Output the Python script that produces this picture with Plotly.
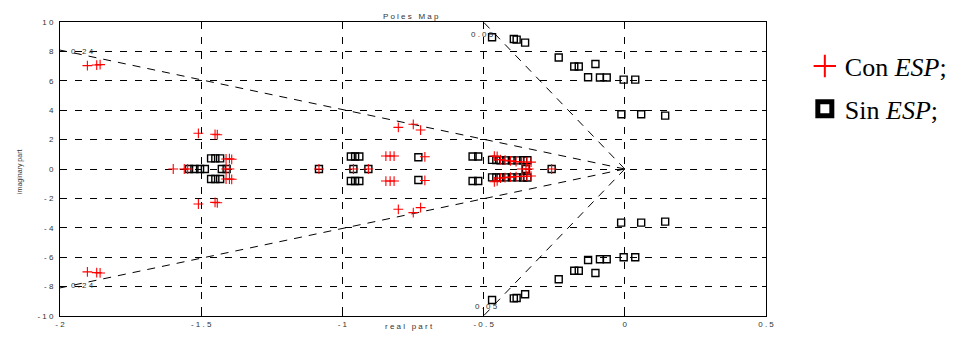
import math
import plotly.graph_objects as go

# ---- data: "Con ESP" poles (red crosses) ----
con_re = [
    -1.903, -1.870, -1.858, -1.510, -1.451, -1.443, -1.412, -1.400, -1.392,
    -0.802, -0.749, -0.723, -0.846, -0.831, -0.817, -0.708,
    -0.462, -0.452, -0.440, -0.424, -0.405, -0.385, -0.365, -0.347, -0.332,
    -1.599, -1.560, -1.548, -1.412, -1.400, -1.083, -0.961, -0.908,
    -0.365, -0.350, -0.340, -0.259,
    -1.903, -1.870, -1.858, -1.510, -1.451, -1.443, -1.412, -1.400, -1.392,
    -0.802, -0.749, -0.723, -0.846, -0.831, -0.817, -0.708,
    -0.462, -0.452, -0.440, -0.424, -0.405, -0.385, -0.365, -0.347, -0.332,
]
con_im = [
    7.03, 7.07, 7.10, 2.43, 2.36, 2.33, 0.68, 0.70, 0.66,
    2.83, 3.04, 2.65, 0.88, 0.88, 0.88, 0.83,
    0.88, 0.85, 0.64, 0.60, 0.55, 0.50, 0.48, 0.48, 0.47,
    0.0, 0.0, 0.0, 0.0, 0.0, 0.0, 0.0, 0.0,
    0.0, 0.0, 0.0, 0.0,
    -7.00, -7.05, -7.07, -2.38, -2.27, -2.30, -0.68, -0.68, -0.70,
    -2.74, -2.97, -2.63, -0.82, -0.82, -0.82, -0.78,
    -0.87, -0.80, -0.62, -0.59, -0.55, -0.52, -0.50, -0.49, -0.48,
]

# ---- data: "Sin ESP" poles (black squares) ----
sin_re = [
    -0.470, -0.393, -0.383, -0.353, -0.234, -0.179, -0.163, -0.104,
    -0.130, -0.088, -0.064, -0.004, 0.037, -0.012, 0.058, 0.143,
    -1.465, -1.450, -1.433, -0.970, -0.955, -0.940, -0.731,
    -0.539, -0.519, -0.470, -0.455, -0.440, -0.420, -0.400, -0.380, -0.360, -0.345,
    -1.543, -1.524, -1.504, -1.487, -1.427, -1.410, -1.083, -0.961, -0.908,
    -0.350, -0.259,
    -0.470, -0.393, -0.383, -0.353, -0.234, -0.179, -0.163, -0.104,
    -0.130, -0.088, -0.064, -0.004, 0.037, -0.013, 0.058, 0.143,
    -1.465, -1.450, -1.433, -0.970, -0.955, -0.940, -0.731,
    -0.539, -0.519, -0.470, -0.455, -0.440, -0.420, -0.400, -0.380, -0.360, -0.345,
]
sin_im = [
    8.96, 8.84, 8.80, 8.60, 7.58, 6.97, 6.97, 7.14,
    6.24, 6.22, 6.22, 6.08, 6.08, 3.72, 3.72, 3.63,
    0.72, 0.72, 0.72, 0.85, 0.85, 0.85, 0.80,
    0.85, 0.85, 0.62, 0.61, 0.60, 0.59, 0.59, 0.59, 0.60, 0.60,
    0.0, 0.0, 0.0, 0.0, 0.0, 0.0, 0.0, 0.0, 0.0,
    0.0, 0.0,
    -8.91, -8.80, -8.78, -8.52, -7.50, -6.92, -6.92, -7.07,
    -6.19, -6.14, -6.14, -6.00, -6.00, -3.65, -3.65, -3.58,
    -0.68, -0.68, -0.68, -0.82, -0.82, -0.82, -0.75,
    -0.82, -0.82, -0.57, -0.57, -0.57, -0.57, -0.57, -0.57, -0.58, -0.58,
]

x_ticks = [-2, -1.5, -1, -0.5, 0, 0.5]
x_tick_text = ["- 2", "- 1 . 5", "- 1", "- 0 . 5", "0", "0 . 5"]
y_ticks = [-10, -8, -6, -4, -2, 0, 2, 4, 6, 8, 10]
y_tick_text = ["- 1 0", "- 8", "- 6", "- 4", "- 2", "0", "2", "4", "6", "8", "1 0"]

zeta_values = [0.24, 0.05]
zeta_labels = ["0 . 2 4", "0 . 0 5"]

X_MIN, X_MAX, Y_MIN, Y_MAX = -2, 0.5, -10, 10

fig = go.Figure()

# constant damping lines
for z in zeta_values:
    wd = math.sqrt(1 - z * z)
    r = min(-X_MIN / z, Y_MAX / wd)
    for s in (1, -1):
        fig.add_trace(go.Scatter(
            x=[0, -z * r], y=[0, s * wd * r], mode="lines",
            line=dict(color="black", width=1, dash="8px,7px"),
            showlegend=False, hoverinfo="skip"))

# damping labels
label_pos = {0.24: [(-1.92, 8.0), (-1.92, -7.95)], 0.05: [(-0.505, 9.15), (-0.49, -9.35)]}
for z, lab in zip(zeta_values, zeta_labels):
    for (lx, ly) in label_pos[z]:
        fig.add_annotation(x=lx, y=ly, text=lab, showarrow=False,
                           font=dict(family="Liberation Sans", size=8, color="#333"))

text_font = dict(family="Liberation Sans", size=8, color="#333")

fig.add_trace(go.Scatter(
    x=sin_re, y=sin_im, mode="markers",
    marker=dict(symbol="square-open", size=7, color="black", line=dict(width=1.4, color="black")),
    showlegend=False))
fig.add_trace(go.Scatter(
    x=con_re, y=con_im, mode="markers",
    marker=dict(symbol="cross-thin-open", size=7, color="red", line=dict(width=1.1, color="red")),
    showlegend=False))

# legend entries
fig.add_trace(go.Scatter(
    x=[None], y=[None], mode="markers", name="Con <i>ESP</i>;", legendgroup="a",
    marker=dict(symbol="cross-thin-open", size=16, color="red", line=dict(width=2, color="red"))))
fig.add_trace(go.Scatter(
    x=[None], y=[None], mode="markers", name="Sin <i>ESP</i>;", legendgroup="b",
    marker=dict(symbol="square-open", size=14, color="black", line=dict(width=5, color="black"))))

axis_common = dict(
    showline=True, linecolor="black", linewidth=1, mirror="ticks",
    ticks="inside", ticklen=4, tickcolor="black",
    showgrid=True, gridcolor="black", gridwidth=1, griddash="7px,8px",
    zeroline=False, tickfont=text_font,
)

fig.update_xaxes(range=[X_MIN, X_MAX], tickvals=x_ticks, ticktext=x_tick_text, **axis_common)
fig.update_yaxes(range=[Y_MIN, Y_MAX], tickvals=y_ticks, ticktext=y_tick_text,
                 ticklabelstandoff=4, **axis_common)

fig.add_annotation(x=0.497, y=1.0, xref="paper", yref="paper", yshift=12,
                   text="P o l e s   M a p", showarrow=False, font=text_font)
fig.add_annotation(x=0.495, y=0, xref="paper", yref="paper", yshift=-17,
                   text="r e a l   p a r t", showarrow=False, font=text_font)
fig.add_annotation(x=0, y=0.49, xref="paper", yref="paper", xshift=-46,
                   text="imaginary part", textangle=-90, showarrow=False,
                   font=dict(family="Liberation Sans", size=7, color="#333"))

fig.update_layout(
    width=962, height=338,
    margin=dict(l=60, r=196, t=22, b=22, autoexpand=False),
    paper_bgcolor="white", plot_bgcolor="white",
    legend=dict(x=1.055, y=0.93, xanchor="left", yanchor="top",
                font=dict(family="Liberation Serif", size=26, color="black"),
                tracegroupgap=6, bgcolor="rgba(0,0,0,0)", itemsizing="trace"),
)

fig.write_html("out.html", config={"displayModeBar": False},
               post_script="document.body.style.margin='0';document.body.style.overflow='hidden';")
